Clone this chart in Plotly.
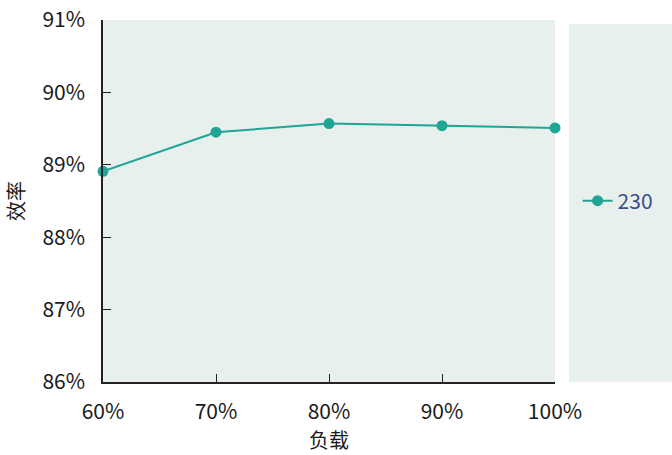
import plotly.graph_objects as go

# Load levels and measured efficiency
load_pct = [60, 70, 80, 90, 100]
efficiency_pct = [88.91, 89.45, 89.57, 89.54, 89.51]
series_name = "230"

x_ticks = [60, 70, 80, 90, 100]
x_tick_text = ["60%", "70%", "80%", "90%", "100%"]
y_ticks = [86, 87, 88, 89, 90, 91]
y_tick_text = ["86%", "87%", "88%", "89%", "90%", "91%"]

LINE = "#1ea593"
BG = "#e8f0ed"
FONT = "Noto Sans CJK SC, Microsoft YaHei, sans-serif"

fig = go.Figure()
fig.add_trace(go.Scatter(
    x=load_pct, y=efficiency_pct, name=series_name,
    mode="lines+markers",
    line=dict(color=LINE, width=2),
    marker=dict(color=LINE, size=11),
    cliponaxis=False,
))

fig.update_layout(
    width=672, height=455,
    margin=dict(l=103, r=117, t=20, b=73, autoexpand=False),
    paper_bgcolor="white",
    plot_bgcolor=BG,
    font=dict(family=FONT, size=21, color="#1a1a1a"),
    showlegend=True,
    legend=dict(
        x=1.05, y=0.5, xanchor="left", yanchor="middle",
        bgcolor="rgba(0,0,0,0)",
        font=dict(size=21, color="#3b4d8c"),
        itemwidth=30,
    ),
    xaxis=dict(
        range=[60, 100], tickvals=x_ticks, ticktext=x_tick_text,
        showgrid=False, zeroline=False, automargin=False,
        showline=True, linecolor="#222", linewidth=1.5,
        ticks="inside", ticklen=8, tickcolor="#222",
        ticklabelstandoff=10,
        title=dict(text="负载", standoff=0, font=dict(size=20)),
    ),
    yaxis=dict(
        range=[86, 91], tickvals=y_ticks, ticktext=y_tick_text,
        showgrid=False, zeroline=False, automargin=False,
        showline=True, linecolor="#222", linewidth=1.5,
        ticks="inside", ticklen=8, tickcolor="#222",
        ticklabelstandoff=12,
        title=dict(text="效率", standoff=12, font=dict(size=20)),
    ),
    shapes=[
        # panel behind the legend
        dict(type="rect", xref="paper", yref="paper",
             x0=1.031, x1=1.26, y0=0.0, y1=0.989,
             fillcolor=BG, line=dict(width=0), layer="below"),
    ],
)

fig.write_html("out.html")
